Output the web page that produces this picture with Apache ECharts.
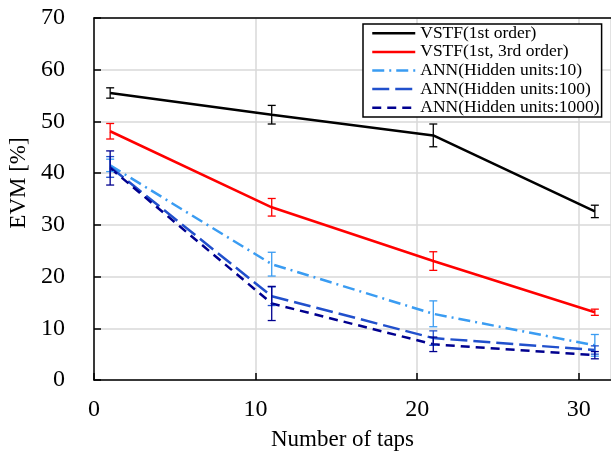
<!DOCTYPE html>
<html lang="en">
<head>
    <meta charset="UTF-8">
    <title>EVM vs number of taps</title>
    <script src="https://cdnjs.cloudflare.com/ajax/libs/echarts/6.0.0/echarts.min.js"></script>
    <style>
        * { margin: 0; padding: 0; box-sizing: border-box; }
        body { background: #fff; }
        #chart { width: 611px; height: 452px; }
    </style>
</head>
<body>
    <div id="chart"></div>
    <script>
        // data
        const taps = [1, 11, 21, 31];
        const seriesNames = ['VSTF(1st order)', 'VSTF(1st, 3rd order)', 'ANN(Hidden units:10)', 'ANN(Hidden units:100)', 'ANN(Hidden units:1000)'];
        const vstf1 = [55.5, 51.3, 47.3, 32.6];
        const vstf1Err = [1.0, 1.8, 2.2, 1.2];
        const vstf13 = [48.1, 33.4, 23.0, 13.1];
        const vstf13Err = [1.5, 1.7, 1.8, 0.6];
        const ann10 = [41.5, 22.4, 12.8, 6.7];
        const ann10Err = [1.2, 2.3, 2.5, 2.1];
        const ann100 = [41.2, 16.2, 8.1, 5.8];
        const ann100Err = [2.0, 1.8, 1.4, 0.8];
        const ann1000 = [41.0, 14.8, 6.9, 4.8];
        const ann1000Err = [3.3, 3.3, 1.4, 0.7];

        const font = "'Liberation Serif', 'DejaVu Serif', serif";
        const colors = ['#000000', '#ff0000', '#3a9cf2', '#2150cc', '#00008f'];
        const dashes = ['solid', 'solid', [12, 5, 2, 5], [17, 6], [9, 6]];
        const values = [vstf1, vstf13, ann10, ann100, ann1000];
        const errs = [vstf1Err, vstf13Err, ann10Err, ann100Err, ann1000Err];

        const chart = echarts.init(document.getElementById('chart'));

        function errRender(params, api) {
            const x = api.value(0);
            const lo = api.coord([x, api.value(1)]);
            const hi = api.coord([x, api.value(2)]);
            const hw = 4;
            const style = { stroke: api.visual('color'), lineWidth: 1.3 };
            return {
                type: 'group',
                children: [
                    { type: 'line', shape: { x1: lo[0], y1: lo[1], x2: hi[0], y2: hi[1] }, style: style },
                    { type: 'line', shape: { x1: lo[0] - hw, y1: lo[1], x2: lo[0] + hw, y2: lo[1] }, style: style },
                    { type: 'line', shape: { x1: hi[0] - hw, y1: hi[1], x2: hi[0] + hw, y2: hi[1] }, style: style }
                ]
            };
        }

        const series = [];
        values.forEach((vals, i) => {
            series.push({
                name: seriesNames[i],
                type: 'line',
                data: taps.map((t, j) => [t, vals[j]]),
                symbol: 'none',
                color: colors[i],
                lineStyle: { color: colors[i], width: 2.5, type: dashes[i] },
                z: 2
            });
        });
        values.forEach((vals, i) => {
            series.push({
                name: 'err' + i,
                type: 'custom',
                renderItem: errRender,
                data: taps.map((t, j) => [t, vals[j] - errs[i][j], vals[j] + errs[i][j]]),
                encode: { x: 0, y: [1, 2] },
                itemStyle: { color: colors[i] },
                z: 3
            });
        });

        chart.setOption({
            animation: false,
            textStyle: { fontFamily: font },
            grid: { left: 94, right: 0, top: 18, bottom: 72, outerBoundsMode: 'none' },
            legend: {
                data: seriesNames,
                orient: 'vertical',
                left: 363,
                top: 24,
                itemGap: 0,
                itemWidth: 43,
                itemHeight: 12,
                padding: [0, 2, 0, 8],
                borderColor: '#000',
                borderWidth: 1.5,
                backgroundColor: '#fff',
                itemStyle: { opacity: 0 },
                lineStyle: { width: 2.5 },
                textStyle: { fontFamily: font, fontSize: 17.5, color: '#000', lineHeight: 18.6 }
            },
            xAxis: [{
                type: 'value',
                min: 0,
                max: 32,
                interval: 10,
                name: 'Number of taps',
                nameLocation: 'middle',
                nameGap: 48,
                nameTextStyle: { fontFamily: font, fontSize: 23, color: '#000', padding: [0, 20, 0, 0] },
                axisLine: { lineStyle: { color: '#000', width: 1.5 } },
                axisTick: { inside: true, length: 7, lineStyle: { color: '#000', width: 1.5 } },
                axisLabel: { fontFamily: font, fontSize: 24, color: '#000', margin: 18, showMaxLabel: false },
                splitLine: { show: true, lineStyle: { color: '#d9d9d9', width: 1.5 } }
            }, {
                type: 'value',
                position: 'top',
                min: 0,
                max: 32,
                axisLine: { show: true, onZero: false, lineStyle: { color: '#000', width: 1.5 } },
                axisTick: { show: false },
                axisLabel: { show: false },
                splitLine: { show: false }
            }],
            yAxis: {
                type: 'value',
                min: 0,
                max: 70,
                interval: 10,
                name: 'EVM [%]',
                nameLocation: 'middle',
                nameRotate: 90,
                nameGap: 60,
                nameTextStyle: { fontFamily: font, fontSize: 23, color: '#000', padding: [0, 0, 0, 32] },
                axisLine: { show: true, lineStyle: { color: '#000', width: 1.5 } },
                axisTick: { show: true, inside: true, length: 7, lineStyle: { color: '#000', width: 1.5 } },
                axisLabel: { fontFamily: font, fontSize: 24, color: '#000', margin: 29 },
                splitLine: { show: true, lineStyle: { color: '#d9d9d9', width: 1.5 } }
            },
            series: series
        });
    </script>
</body>
</html>
